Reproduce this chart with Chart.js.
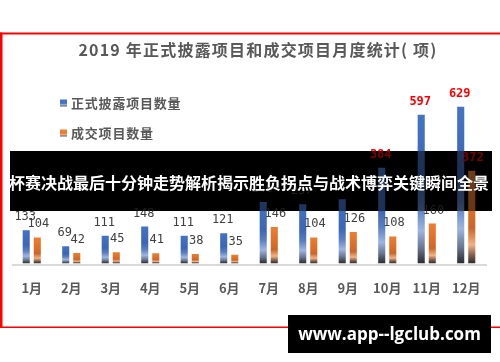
<!DOCTYPE html>
<html>
<head>
<meta charset="utf-8">
<script src="https://cdn.jsdelivr.net/npm/chart.js@4.4.1/dist/chart.umd.min.js"></script>
<style>
  html, body { margin: 0; padding: 0; background: #ffffff; }
  #wrap { width: 500px; height: 362px; position: relative; }
  canvas { display: block; }
</style>
</head>
<body>
<div id="wrap"><canvas id="c" width="500" height="362"></canvas></div>
<script>
// ---- data ----
const chartTitle = '2019 年正式披露项目和成交项目月度统计( 项)';
const categories = ['1月', '2月', '3月', '4月', '5月', '6月', '7月', '8月', '9月', '10月', '11月', '12月'];
const seriesNames = ['正式披露项目数量', '成交项目数量'];
const disclosedValues = [133, 69, 111, 148, 111, 121, 246, 237, 257, 384, 597, 629];
const dealValues = [104, 42, 45, 41, 38, 35, 146, 104, 126, 108, 160, 372];
const bannerText = '杯赛决战最后十分钟走势解析揭示胜负拐点与战术博弈关键瞬间全景';
const watermarkText = 'www.app--lgclub.com';
const highlightThreshold = 300;

// ---- styles ----
const blueStops = [[0, '#4472C4'], [0.45, '#3C66B4'], [0.62, '#5A7EC2'], [0.78, '#9DB5E0'], [0.9, '#66748E'], [1, '#2B2B2B']];
const orangeStops = [[0, '#ED7D31'], [0.45, '#DA6E28'], [0.62, '#C9662B'], [0.8, '#F4B183'], [0.9, '#8C6650'], [1, '#2B2B2B']];
const BANNER = { x: 10, y: 151, w: 482, h: 60 };

function makeGradient(ctx2d, top, bottom, stops) {
  const g = ctx2d.createLinearGradient(0, top, 0, bottom);
  stops.forEach(([o, c]) => g.addColorStop(o, c));
  return g;
}
function barFill(stops) {
  return (ctx) => {
    const chart = ctx.chart;
    if (!chart.chartArea || ctx.type !== 'data' || !chart.scales.y) return stops[0][1];
    const ys = chart.scales.y;
    const top = ys.getPixelForValue(ctx.raw);
    const bottom = ys.getPixelForValue(0);
    if (!isFinite(top) || !isFinite(bottom) || bottom - top < 1) return stops[0][1];
    return makeGradient(chart.ctx, top, bottom, stops);
  };
}

const decor = {
  id: 'decor',
  beforeDatasetsDraw(chart) {
    const c = chart.ctx;
    const a = chart.chartArea;
    c.save();
    c.fillStyle = '#D9D9D9';
    c.fillRect(a.left, a.bottom + 0.6, a.right - a.left + 1, 2);
    c.fillStyle = '#000000';
    c.fillRect(BANNER.x, BANNER.y, BANNER.w, BANNER.h);
    c.restore();
  },
  afterDatasetsDraw(chart) {
    const c = chart.ctx;
    c.save();
    chart.data.datasets.forEach((ds, di) => {
      const meta = chart.getDatasetMeta(di);
      meta.data.forEach((bar, i) => {
        const v = ds.data[i];
        const hi = v > highlightThreshold;
        c.font = (hi ? 'bold ' : '') + '12px "DejaVu Sans Mono", monospace';
        c.fillStyle = hi ? '#FF0000' : '#404040';
        c.textAlign = 'center';
        c.textBaseline = 'alphabetic';
        c.fillText(String(v), bar.x + (di === 0 ? -1 : 1), bar.y - 10);
      });
    });
    c.fillStyle = 'rgba(0,0,0,0.52)';
    c.fillRect(BANNER.x, BANNER.y, BANNER.w, BANNER.h);
    c.fillStyle = '#FFFFFF';
    c.font = 'bold 16px "Noto Sans CJK SC", sans-serif';
    c.textAlign = 'center';
    c.textBaseline = 'middle';
    c.fillText(bannerText, 249, 183);
    c.restore();
  },
  afterDraw(chart) {
    const c = chart.ctx;
    c.save();
    c.fillStyle = '#595959';
    c.font = 'bold 16px "Noto Sans CJK SC", sans-serif';
    c.textAlign = 'center';
    c.textBaseline = 'middle';
    try { c.letterSpacing = '1.2px'; } catch (e) {}
    c.fillText(chartTitle, 258, 50);
    try { c.letterSpacing = '0.8px'; } catch (e) {}
    c.font = 'bold 13px "Noto Sans CJK SC", sans-serif';
    c.textAlign = 'left';
    const legendY = [103, 133];
    const legendStops = [blueStops, orangeStops];
    seriesNames.forEach((name, i) => {
      const y = legendY[i];
      c.fillStyle = makeGradient(c, y - 3.5, y + 3.5, [[0, legendStops[i][0][1]], [0.55, legendStops[i][0][1]], [0.75, legendStops[i][3][1]], [1, '#555555']]);
      c.fillRect(60, y - 3.5, 7, 7);
      c.fillStyle = '#595959';
      c.fillText(name, 71, y);
    });
    try { c.letterSpacing = '0px'; } catch (e) {}
    c.fillStyle = '#FF0000';
    c.fillRect(0, 32.5, 500, 2);
    c.fillRect(0, 32.5, 2.5, 295);
    c.fillRect(0, 326.5, 500, 1.5);
    c.fillStyle = '#000000';
    c.fillRect(288, 315, 203, 38);
    c.fillStyle = '#FFFFFF';
    c.font = 'bold 17px "Open Sans", "DejaVu Sans", sans-serif';
    c.textAlign = 'center';
    c.textBaseline = 'middle';
    c.fillText(watermarkText, 389.5, 335);
    c.restore();
  }
};

new Chart(document.getElementById('c'), {
  type: 'bar',
  data: {
    labels: categories,
    datasets: [
      { label: seriesNames[0], data: disclosedValues, backgroundColor: barFill(blueStops), borderWidth: 0,
        categoryPercentage: 0.56, barPercentage: 0.64 },
      { label: seriesNames[1], data: dealValues, backgroundColor: barFill(orangeStops), borderWidth: 0,
        categoryPercentage: 0.56, barPercentage: 0.64 }
    ]
  },
  options: {
    responsive: false,
    animation: false,
    devicePixelRatio: 1,
    layout: { padding: { left: 12, right: 14, top: 89, bottom: 49 } },
    plugins: { legend: { display: false }, title: { display: false }, tooltip: { enabled: false } },
    scales: {
      x: {
        grid: { display: false, drawTicks: false },
        border: { display: false },
        ticks: { color: '#595959', padding: 17, font: { family: '"Noto Sans CJK SC", sans-serif', size: 13, weight: 'bold' } }
      },
      y: { display: false, min: 0, max: 700 }
    }
  },
  plugins: [decor]
});
</script>
</body>
</html>
